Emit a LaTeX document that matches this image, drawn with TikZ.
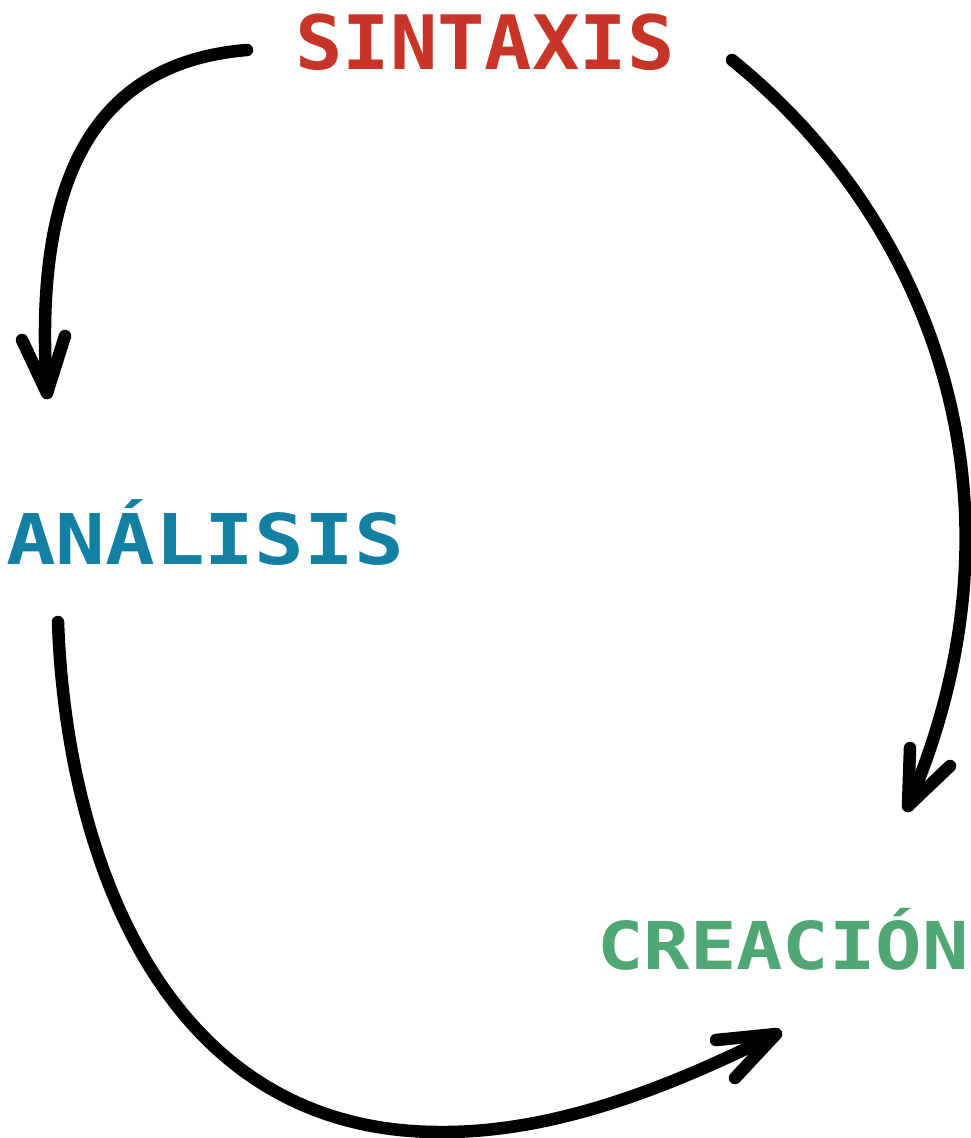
\documentclass[tikz,border=0pt]{standalone}
\usepackage{fontspec}
\newfontfamily\labelfont{DejaVu Sans Mono}
\definecolor{cred}{HTML}{C63527}
\definecolor{cteal}{HTML}{1380A3}
\definecolor{cgreen}{HTML}{51A774}
\tikzset{
  conn/.style={line width=12.5pt, line cap=round, line join=round, black},
  lbl/.style={anchor=base, inner sep=0pt, font=\labelfont\bfseries},
}
\begin{document}
\begin{tikzpicture}[x=1pt,y=-1pt]
\useasboundingbox (0,0) rectangle (971,1138);
\node[lbl, text=cred, font=\labelfont\bfseries\fontsize{75}{75}\selectfont] (sintaxis) at (485,69) {\scalebox{1.05}[1]{SINTAXIS}};
\node[lbl, text=cteal, font=\labelfont\bfseries\fontsize{70}{70}\selectfont] (analisis) at (205,564) {\scalebox{1.18}[1]{ANÁLISIS}};
\node[lbl, text=cgreen, font=\labelfont\bfseries\fontsize{66}{66}\selectfont] (creacion) at (783,969) {\scalebox{1.17}[1]{CREACIÓN}};
% arrow 1: sintaxis -> analisis
\coordinate (s1) at (247,50);
\coordinate (t1) at (47,393);
\coordinate (h1a) at (22,340);
\coordinate (h1b) at (65,336);
\draw[conn] (s1) .. controls (100,62) and (32,170) .. (t1);
\draw[conn] (h1a) -- (t1) -- (h1b);
% arrow 2: sintaxis -> creacion
\coordinate (s2) at (732,60);
\coordinate (t2) at (908,806);
\coordinate (h2a) at (910,748);
\coordinate (h2b) at (950,766);
\draw[conn] (s2) .. controls (930,220) and (1040,500) .. (t2);
\draw[conn] (h2a) -- (t2) -- (h2b);
% arrow 3: analisis -> creacion
\coordinate (s3) at (58,622);
\coordinate (m3) at (440,1132);
\coordinate (t3) at (776,1034);
\coordinate (h3a) at (716,1040);
\coordinate (h3b) at (735,1078);
\draw[conn] (s3) .. controls (66,850) and (160,1132) .. (m3) .. controls (560,1133) and (680,1082) .. (t3);
\draw[conn] (h3a) -- (t3) -- (h3b);
\end{tikzpicture}
\end{document}
